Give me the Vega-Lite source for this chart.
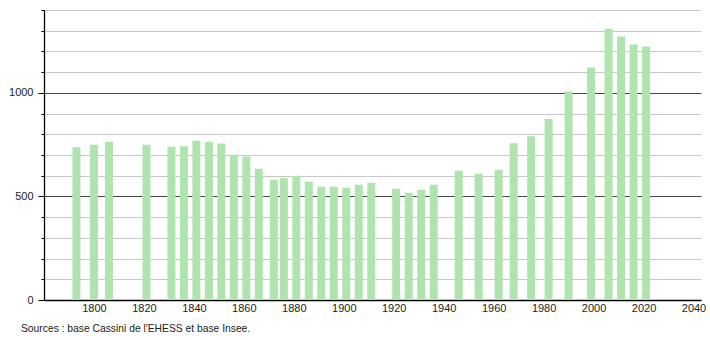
{
  "$schema": "https://vega.github.io/schema/vega-lite/v6.json",
  "width": 657,
  "height": 290,
  "autosize": {"type": "none"},
  "padding": {"left": 44, "top": 10, "right": 9, "bottom": 40},
  "background": "white",
  "config": {
    "view": {"stroke": null},
    "font": "Liberation Sans",
    "axis": {"labelFont": "Liberation Sans", "labelFontSize": 11, "labelColor": "#222", "domainColor": "#000", "domainWidth": 1.3}
  },
  "title": {
    "text": "Sources : base Cassini de l'EHESS et base Insee.",
    "orient": "bottom",
    "anchor": "start",
    "frame": "group",
    "dx": -23,
    "offset": 11,
    "fontSize": 10.3,
    "fontWeight": "normal",
    "font": "Liberation Sans",
    "color": "#222"
  },
  "data": {
    "values": [
      {"year": 1793, "pop": 737},
      {"year": 1800, "pop": 750},
      {"year": 1806, "pop": 764},
      {"year": 1821, "pop": 750},
      {"year": 1831, "pop": 740},
      {"year": 1836, "pop": 742},
      {"year": 1841, "pop": 769},
      {"year": 1846, "pop": 764},
      {"year": 1851, "pop": 755},
      {"year": 1856, "pop": 701},
      {"year": 1861, "pop": 693},
      {"year": 1866, "pop": 634},
      {"year": 1872, "pop": 580},
      {"year": 1876, "pop": 590},
      {"year": 1881, "pop": 600},
      {"year": 1886, "pop": 571},
      {"year": 1891, "pop": 547},
      {"year": 1896, "pop": 547},
      {"year": 1901, "pop": 542},
      {"year": 1906, "pop": 556},
      {"year": 1911, "pop": 566},
      {"year": 1921, "pop": 537},
      {"year": 1926, "pop": 518},
      {"year": 1931, "pop": 532},
      {"year": 1936, "pop": 556},
      {"year": 1946, "pop": 624},
      {"year": 1954, "pop": 610},
      {"year": 1962, "pop": 629},
      {"year": 1968, "pop": 757},
      {"year": 1975, "pop": 790},
      {"year": 1982, "pop": 874},
      {"year": 1990, "pop": 1006},
      {"year": 1999, "pop": 1122},
      {"year": 2006, "pop": 1310},
      {"year": 2011, "pop": 1272},
      {"year": 2016, "pop": 1234},
      {"year": 2021, "pop": 1224}
    ]
  },
  "mark": {"type": "bar", "width": 8, "color": "#afe4af"},
  "encoding": {
    "x": {
      "field": "year",
      "type": "quantitative",
      "scale": {"domain": [1780, 2043], "nice": false, "zero": false, "padding": 0},
      "axis": {
        "title": null,
        "values": [1800, 1820, 1840, 1860, 1880, 1900, 1920, 1940, 1960, 1980, 2000, 2020, 2040],
        "format": "d",
        "ticks": false,
        "tickSize": 0,
        "labelPadding": 2,
        "grid": false,
        "labelFlush": false,
        "labelOverlap": false
      }
    },
    "y": {
      "field": "pop",
      "type": "quantitative",
      "scale": {"domain": [0, 1400], "nice": false},
      "axis": {
        "title": null,
        "values": [0, 100, 200, 300, 400, 500, 600, 700, 800, 900, 1000, 1100, 1200, 1300, 1400],
        "format": "d",
        "labelExpr": "datum.value % 500 === 0 ? datum.label : ''",
        "tickColor": "#000",
        "tickSize": {"condition": {"test": "datum.value % 500 === 0", "value": 6}, "value": 3},
        "labelPadding": 5,
        "grid": true,
        "gridColor": {"condition": {"test": "datum.value % 500 === 0 && datum.value > 0", "value": "#444"}, "value": "#c8c8c8"},
        "gridWidth": 1,
        "labelOverlap": false
      }
    }
  }
}
